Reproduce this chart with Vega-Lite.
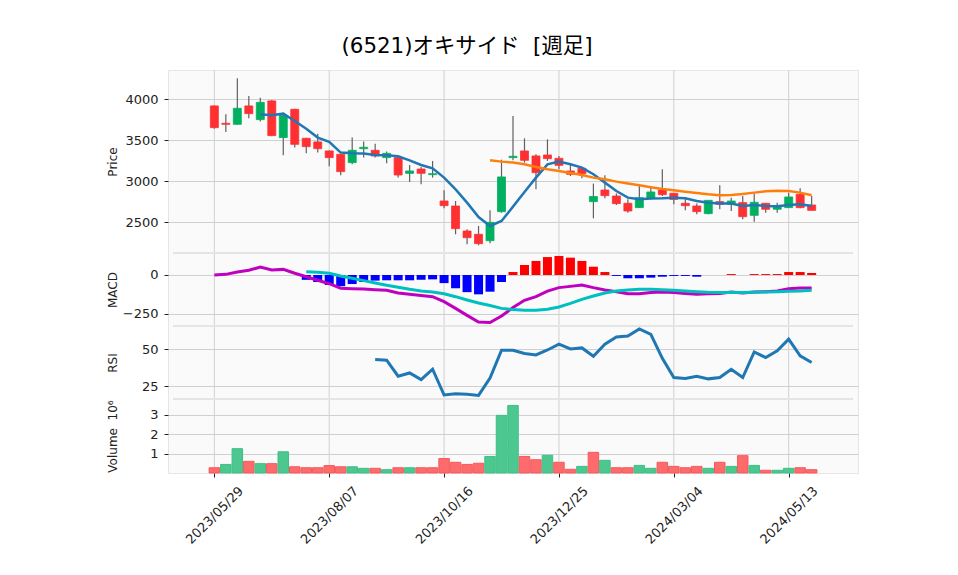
{
  "$schema": "https://vega.github.io/schema/vega-lite/v6.json",
  "background": "white",
  "padding": {"left": 106, "top": 36, "right": 5, "bottom": 5},
  "title": {"text": "(6521)オキサイド\u00a0\u00a0[週足]", "font": "DejaVu Sans, Noto Sans CJK JP", "fontSize": 21.4, "fontWeight": "normal", "color": "#000000", "anchor": "middle", "frame": "group", "dx": -46, "offset": 12},
  "width": 690,
  "height": 403,
  "datasets": {
    "gridlines": [{"g": 0}, {"g": 10}, {"g": 20}, {"g": 30}, {"g": 40}, {"g": 50}]
  },
  "data": {"values": [
    {"i":0,"date":"2023-05-29","o":3919,"h":3925,"l":3640,"c":3654,"d":"down","ma5":null,"ma25":null,"macd":0,"sig":null,"hist":null,"rsi":null,"vol":270000,"vd":"down"},
    {"i":1,"date":"2023-06-05","o":3707,"h":3817,"l":3602,"c":3695,"d":"down","ma5":null,"ma25":null,"macd":4,"sig":null,"hist":null,"rsi":null,"vol":440000,"vd":"up"},
    {"i":2,"date":"2023-06-12","o":3695,"h":4256,"l":3690,"c":3890,"d":"up","ma5":null,"ma25":null,"macd":19,"sig":null,"hist":null,"rsi":null,"vol":1250000,"vd":"up"},
    {"i":3,"date":"2023-06-19","o":3919,"h":4041,"l":3768,"c":3825,"d":"down","ma5":null,"ma25":null,"macd":30,"sig":null,"hist":null,"rsi":null,"vol":600000,"vd":"down"},
    {"i":4,"date":"2023-06-26","o":3752,"h":4020,"l":3728,"c":3963,"d":"up","ma5":3817,"ma25":null,"macd":51,"sig":null,"hist":null,"rsi":null,"vol":480000,"vd":"up"},
    {"i":5,"date":"2023-07-03","o":3980,"h":3992,"l":3550,"c":3557,"d":"down","ma5":3805,"ma25":null,"macd":32,"sig":null,"hist":null,"rsi":null,"vol":480000,"vd":"down"},
    {"i":6,"date":"2023-07-10","o":3533,"h":3837,"l":3317,"c":3805,"d":"up","ma5":3825,"ma25":null,"macd":36,"sig":null,"hist":null,"rsi":null,"vol":1090000,"vd":"up"},
    {"i":7,"date":"2023-07-17","o":3878,"h":3885,"l":3411,"c":3451,"d":"down","ma5":3736,"ma25":null,"macd":11,"sig":null,"hist":null,"rsi":null,"vol":320000,"vd":"down"},
    {"i":8,"date":"2023-07-24","o":3524,"h":3530,"l":3341,"c":3423,"d":"down","ma5":3642,"ma25":null,"macd":-11,"sig":21,"hist":-31,"rsi":null,"vol":270000,"vd":"down"},
    {"i":9,"date":"2023-07-31","o":3480,"h":3581,"l":3350,"c":3398,"d":"down","ma5":3533,"ma25":null,"macd":-34,"sig":17,"hist":-45,"rsi":null,"vol":270000,"vd":"down"},
    {"i":10,"date":"2023-08-07","o":3370,"h":3375,"l":3183,"c":3289,"d":"down","ma5":3480,"ma25":null,"macd":-56,"sig":11,"hist":-64,"rsi":null,"vol":380000,"vd":"down"},
    {"i":11,"date":"2023-08-14","o":3329,"h":3335,"l":3073,"c":3118,"d":"down","ma5":3350,"ma25":null,"macd":-85,"sig":-6,"hist":-72,"rsi":null,"vol":320000,"vd":"down"},
    {"i":12,"date":"2023-08-21","o":3228,"h":3533,"l":3207,"c":3378,"d":"up","ma5":3342,"ma25":null,"macd":-88,"sig":-21,"hist":-58,"rsi":null,"vol":320000,"vd":"up"},
    {"i":13,"date":"2023-08-28","o":3398,"h":3484,"l":3289,"c":3415,"d":"up","ma5":3338,"ma25":null,"macd":-90,"sig":-36,"hist":-45,"rsi":null,"vol":240000,"vd":"up"},
    {"i":14,"date":"2023-09-04","o":3378,"h":3459,"l":3289,"c":3309,"d":"down","ma5":3321,"ma25":null,"macd":-94,"sig":-51,"hist":-36,"rsi":43.0,"vol":240000,"vd":"down"},
    {"i":15,"date":"2023-09-11","o":3289,"h":3362,"l":3220,"c":3341,"d":"up","ma5":3317,"ma25":null,"macd":-98,"sig":-66,"hist":-34,"rsi":42.6,"vol":170000,"vd":"up"},
    {"i":16,"date":"2023-09-18","o":3289,"h":3309,"l":3045,"c":3077,"d":"down","ma5":3305,"ma25":null,"macd":-115,"sig":-79,"hist":-34,"rsi":31.8,"vol":270000,"vd":"down"},
    {"i":17,"date":"2023-09-25","o":3097,"h":3199,"l":2992,"c":3126,"d":"up","ma5":3256,"ma25":null,"macd":-124,"sig":-92,"hist":-34,"rsi":34.0,"vol":270000,"vd":"up"},
    {"i":18,"date":"2023-10-02","o":3150,"h":3175,"l":2963,"c":3097,"d":"down","ma5":3199,"ma25":null,"macd":-132,"sig":-103,"hist":-30,"rsi":29.5,"vol":270000,"vd":"down"},
    {"i":19,"date":"2023-10-09","o":3081,"h":3248,"l":3045,"c":3093,"d":"up","ma5":3159,"ma25":null,"macd":-139,"sig":-109,"hist":-28,"rsi":36.5,"vol":270000,"vd":"down"},
    {"i":20,"date":"2023-10-16","o":2760,"h":2890,"l":2671,"c":2703,"d":"down","ma5":3045,"ma25":null,"macd":-171,"sig":-120,"hist":-52,"rsi":19.1,"vol":740000,"vd":"down"},
    {"i":21,"date":"2023-10-23","o":2699,"h":2760,"l":2354,"c":2423,"d":"down","ma5":2902,"ma25":null,"macd":-214,"sig":-139,"hist":-85,"rsi":20.0,"vol":550000,"vd":"down"},
    {"i":22,"date":"2023-10-30","o":2394,"h":2415,"l":2232,"c":2313,"d":"down","ma5":2740,"ma25":null,"macd":-259,"sig":-160,"hist":-110,"rsi":19.6,"vol":440000,"vd":"down"},
    {"i":23,"date":"2023-11-06","o":2354,"h":2455,"l":2220,"c":2240,"d":"down","ma5":2565,"ma25":null,"macd":-301,"sig":-180,"hist":-124,"rsi":18.8,"vol":500000,"vd":"down"},
    {"i":24,"date":"2023-11-13","o":2276,"h":2646,"l":2244,"c":2500,"d":"up","ma5":2455,"ma25":3256,"macd":-305,"sig":-196,"hist":-107,"rsi":30.5,"vol":850000,"vd":"up"},
    {"i":25,"date":"2023-11-20","o":2630,"h":3264,"l":2618,"c":3053,"d":"up","ma5":2516,"ma25":3240,"macd":-263,"sig":-214,"hist":-45,"rsi":49.3,"vol":2960000,"vd":"up"},
    {"i":26,"date":"2023-11-27","o":3289,"h":3797,"l":3256,"c":3305,"d":"up","ma5":2691,"ma25":3228,"macd":-209,"sig":-222,"hist":19,"rsi":49.3,"vol":3470000,"vd":"up"},
    {"i":27,"date":"2023-12-04","o":3370,"h":3524,"l":3228,"c":3256,"d":"down","ma5":2870,"ma25":3207,"macd":-162,"sig":-226,"hist":64,"rsi":47.1,"vol":850000,"vd":"down"},
    {"i":28,"date":"2023-12-11","o":3309,"h":3329,"l":2902,"c":3106,"d":"down","ma5":3045,"ma25":3175,"macd":-139,"sig":-226,"hist":90,"rsi":46.2,"vol":680000,"vd":"down"},
    {"i":29,"date":"2023-12-18","o":3321,"h":3512,"l":3248,"c":3276,"d":"down","ma5":3207,"ma25":3146,"macd":-103,"sig":-220,"hist":115,"rsi":49.5,"vol":910000,"vd":"up"},
    {"i":30,"date":"2023-12-25","o":3280,"h":3309,"l":3146,"c":3195,"d":"down","ma5":3240,"ma25":3126,"macd":-81,"sig":-205,"hist":122,"rsi":53.4,"vol":550000,"vd":"down"},
    {"i":31,"date":"2024-01-01","o":3126,"h":3216,"l":3065,"c":3085,"d":"down","ma5":3207,"ma25":3102,"macd":-73,"sig":-182,"hist":111,"rsi":50.2,"vol":190000,"vd":"down"},
    {"i":32,"date":"2024-01-08","o":3159,"h":3175,"l":3037,"c":3093,"d":"down","ma5":3167,"ma25":3077,"macd":-64,"sig":-156,"hist":90,"rsi":50.9,"vol":340000,"vd":"up"},
    {"i":33,"date":"2024-01-15","o":2752,"h":2972,"l":2549,"c":2815,"d":"up","ma5":3086,"ma25":3045,"macd":-81,"sig":-135,"hist":53,"rsi":45.3,"vol":1060000,"vd":"down"},
    {"i":34,"date":"2024-01-22","o":2894,"h":3073,"l":2793,"c":2825,"d":"down","ma5":2984,"ma25":3024,"macd":-96,"sig":-115,"hist":19,"rsi":53.4,"vol":650000,"vd":"up"},
    {"i":35,"date":"2024-01-29","o":2821,"h":2850,"l":2711,"c":2728,"d":"down","ma5":2882,"ma25":2996,"macd":-107,"sig":-103,"hist":-6,"rsi":58.3,"vol":270000,"vd":"down"},
    {"i":36,"date":"2024-02-05","o":2732,"h":2780,"l":2618,"c":2638,"d":"down","ma5":2801,"ma25":2972,"macd":-120,"sig":-96,"hist":-21,"rsi":59.0,"vol":270000,"vd":"down"},
    {"i":37,"date":"2024-02-12","o":2679,"h":2943,"l":2679,"c":2801,"d":"up","ma5":2780,"ma25":2951,"macd":-120,"sig":-92,"hist":-21,"rsi":63.7,"vol":390000,"vd":"up"},
    {"i":38,"date":"2024-02-19","o":2793,"h":2923,"l":2780,"c":2870,"d":"up","ma5":2789,"ma25":2927,"macd":-113,"sig":-92,"hist":-17,"rsi":60.1,"vol":240000,"vd":"up"},
    {"i":39,"date":"2024-02-26","o":2894,"h":3146,"l":2821,"c":2837,"d":"down","ma5":2793,"ma25":2906,"macd":-109,"sig":-94,"hist":-11,"rsi":43.9,"vol":550000,"vd":"down"},
    {"i":40,"date":"2024-03-04","o":2854,"h":2858,"l":2719,"c":2780,"d":"down","ma5":2801,"ma25":2890,"macd":-113,"sig":-98,"hist":-6,"rsi":30.9,"vol":340000,"vd":"down"},
    {"i":41,"date":"2024-03-11","o":2732,"h":2793,"l":2646,"c":2703,"d":"down","ma5":2793,"ma25":2874,"macd":-118,"sig":-103,"hist":-6,"rsi":30.2,"vol":270000,"vd":"down"},
    {"i":42,"date":"2024-03-18","o":2699,"h":2728,"l":2598,"c":2630,"d":"down","ma5":2760,"ma25":2858,"macd":-124,"sig":-107,"hist":-11,"rsi":31.8,"vol":340000,"vd":"down"},
    {"i":43,"date":"2024-03-25","o":2606,"h":2770,"l":2598,"c":2768,"d":"up","ma5":2740,"ma25":2841,"macd":-120,"sig":-111,"hist":0,"rsi":30.0,"vol":240000,"vd":"up"},
    {"i":44,"date":"2024-04-01","o":2752,"h":2951,"l":2659,"c":2720,"d":"down","ma5":2728,"ma25":2829,"macd":-118,"sig":-113,"hist":0,"rsi":30.9,"vol":550000,"vd":"down"},
    {"i":45,"date":"2024-04-08","o":2720,"h":2801,"l":2638,"c":2760,"d":"up","ma5":2728,"ma25":2833,"macd":-109,"sig":-113,"hist":6,"rsi":36.5,"vol":340000,"vd":"up"},
    {"i":46,"date":"2024-04-15","o":2740,"h":2821,"l":2537,"c":2569,"d":"down","ma5":2699,"ma25":2846,"macd":-116,"sig":-113,"hist":0,"rsi":30.9,"vol":890000,"vd":"down"},
    {"i":47,"date":"2024-04-22","o":2585,"h":2850,"l":2508,"c":2744,"d":"up","ma5":2711,"ma25":2862,"macd":-109,"sig":-111,"hist":6,"rsi":48.2,"vol":390000,"vd":"up"},
    {"i":48,"date":"2024-04-29","o":2732,"h":2735,"l":2618,"c":2659,"d":"down","ma5":2699,"ma25":2878,"macd":-107,"sig":-109,"hist":6,"rsi":44.4,"vol":140000,"vd":"down"},
    {"i":49,"date":"2024-05-06","o":2659,"h":2740,"l":2618,"c":2691,"d":"up","ma5":2695,"ma25":2886,"macd":-103,"sig":-107,"hist":6,"rsi":48.9,"vol":140000,"vd":"up"},
    {"i":50,"date":"2024-05-13","o":2679,"h":2862,"l":2679,"c":2809,"d":"up","ma5":2711,"ma25":2882,"macd":-88,"sig":-105,"hist":19,"rsi":56.8,"vol":240000,"vd":"up"},
    {"i":51,"date":"2024-05-20","o":2841,"h":2915,"l":2671,"c":2679,"d":"down","ma5":2720,"ma25":2862,"macd":-83,"sig":-103,"hist":19,"rsi":45.5,"vol":270000,"vd":"down"},
    {"i":52,"date":"2024-05-27","o":2711,"h":2821,"l":2646,"c":2646,"d":"down","ma5":2699,"ma25":2829,"macd":-83,"sig":-98,"hist":13,"rsi":41.0,"vol":170000,"vd":"down"}
  ]},
  "encoding": {
    "x": {"field": "i", "type": "quantitative", "scale": {"domain": [-3.6, 55.6], "nice": false, "zero": false},
          "axis": {"values": [0,10,20,30,40,50], "labelExpr": "['2023/05/29','2023/08/07','2023/10/16','2023/12/25','2024/03/04','2024/05/13'][round(datum.value/10)]",
                   "labelAngle": -45, "labelAlign": "center", "labelBaseline": "middle", "labelPadding": 38, "labelOverlap": false, "labelFlush": false, "labelBound": false,
                   "ticks": true, "tickSize": 4, "domain": false, "title": null, "grid": false}}
  },
  "layer": [
    {
      "data": {"name": "gridlines"},
      "mark": {"type": "rule", "color": "#d0d0d0", "strokeWidth": 1},
      "encoding": {"x": {"field": "g", "type": "quantitative"}}
    },
    {
      "layer": [
        {"mark": {"type": "rule", "color": "#606060", "strokeWidth": 1.2},
         "encoding": {"y": {"field": "l", "type": "quantitative", "scale": {"domain": [2126, 4357], "nice": false, "zero": false, "range": [183, 0]},
                            "axis": {"values": [2500,3000,3500,4000], "format": "d", "title": "Price", "grid": true, "orient": "left"}},
                      "y2": {"field": "h"}}},
        {"mark": {"type": "bar", "size": 8, "strokeWidth": 0.8},
         "encoding": {"y": {"field": "o", "type": "quantitative"}, "y2": {"field": "c"},
                      "color": {"condition": {"test": "datum.d == 'up'", "value": "#00b060"}, "value": "#fe3032"},
                      "stroke": {"condition": {"test": "datum.d == 'up'", "value": "#00b060"}, "value": "#fe3032"}}},
        {"mark": {"type": "line", "color": "#1f77b4", "strokeWidth": 2.5},
         "encoding": {"y": {"field": "ma5", "type": "quantitative"}}},
        {"mark": {"type": "line", "color": "#ff7f0e", "strokeWidth": 2.5},
         "encoding": {"y": {"field": "ma25", "type": "quantitative"}}}
      ]
    },
    {
      "layer": [
        {"mark": {"type": "rule", "color": "#e4e4e4", "strokeWidth": 1},
         "encoding": {"x": {"datum": -3.6}, "x2": {"datum": 55.6},
                      "y": {"datum": 141, "type": "quantitative", "scale": {"domain": [-327, 141], "nice": false, "zero": false, "range": [256, 183]},
                            "axis": {"values": [-250, 0], "format": "d", "title": "MACD", "grid": true, "orient": "left"}}}},
        {"mark": {"type": "bar", "size": 9},
         "encoding": {"y": {"field": "hist", "type": "quantitative"},
                      "color": {"condition": {"test": "datum.hist >= 0", "value": "#ff0000"}, "value": "#0000ff"}}},
        {"mark": {"type": "line", "color": "#bf00bf", "strokeWidth": 3},
         "encoding": {"y": {"field": "macd", "type": "quantitative"}}},
        {"mark": {"type": "line", "color": "#00bfbf", "strokeWidth": 3},
         "encoding": {"y": {"field": "sig", "type": "quantitative"}}}
      ]
    },
    {
      "layer": [
        {"mark": {"type": "rule", "color": "#e4e4e4", "strokeWidth": 1},
         "encoding": {"x": {"datum": -3.6}, "x2": {"datum": 55.6},
                      "y": {"datum": 65.7, "type": "quantitative", "scale": {"domain": [16.4, 65.7], "nice": false, "zero": false, "range": [329, 256]},
                            "axis": {"values": [25, 50], "title": "RSI", "grid": true, "orient": "left"}}}},
        {"mark": {"type": "line", "color": "#1f77b4", "strokeWidth": 3},
         "encoding": {"y": {"field": "rsi", "type": "quantitative"}}}
      ]
    },
    {
      "layer": [
        {"mark": {"type": "rule", "color": "#e4e4e4", "strokeWidth": 1},
         "encoding": {"x": {"datum": -3.6}, "x2": {"datum": 55.6},
                      "y": {"datum": 3800000, "type": "quantitative", "scale": {"domain": [0, 3800000], "nice": false, "range": [403, 329]},
                            "axis": {"values": [1000000, 2000000, 3000000], "labelExpr": "format(datum.value/1000000, 'd')", "title": "Volume\u00a0\u00a010⁶", "grid": true, "orient": "left"}}}},
        {"mark": {"type": "bar", "size": 10.5, "strokeWidth": 1},
         "encoding": {"y": {"field": "vol", "type": "quantitative"},
                      "color": {"condition": {"test": "datum.vd == 'up'", "value": "#4dc790"}, "value": "#fd6b6c"},
                      "stroke": {"condition": {"test": "datum.vd == 'up'", "value": "#3fbf85"}, "value": "#f55a5b"}}}
      ]
    }
  ],
  "resolve": {"scale": {"y": "independent"}, "axis": {"y": "independent"}},
  "config": {
    "view": {"stroke": "#e6e6e6", "fill": "#fafafa"},
    "axis": {"gridColor": "#d0d0d0", "gridWidth": 1, "domain": false, "labelFont": "DejaVu Sans", "labelFontSize": 13, "labelColor": "#222222", "tickColor": "#222222", "tickSize": 4, "labelPadding": 6, "titleFont": "DejaVu Sans", "titleFontSize": 12, "titleFontWeight": "normal", "titleColor": "#222222"},
    "axisY": {"minExtent": 45, "maxExtent": 45, "titlePadding": 4}
  }
}
